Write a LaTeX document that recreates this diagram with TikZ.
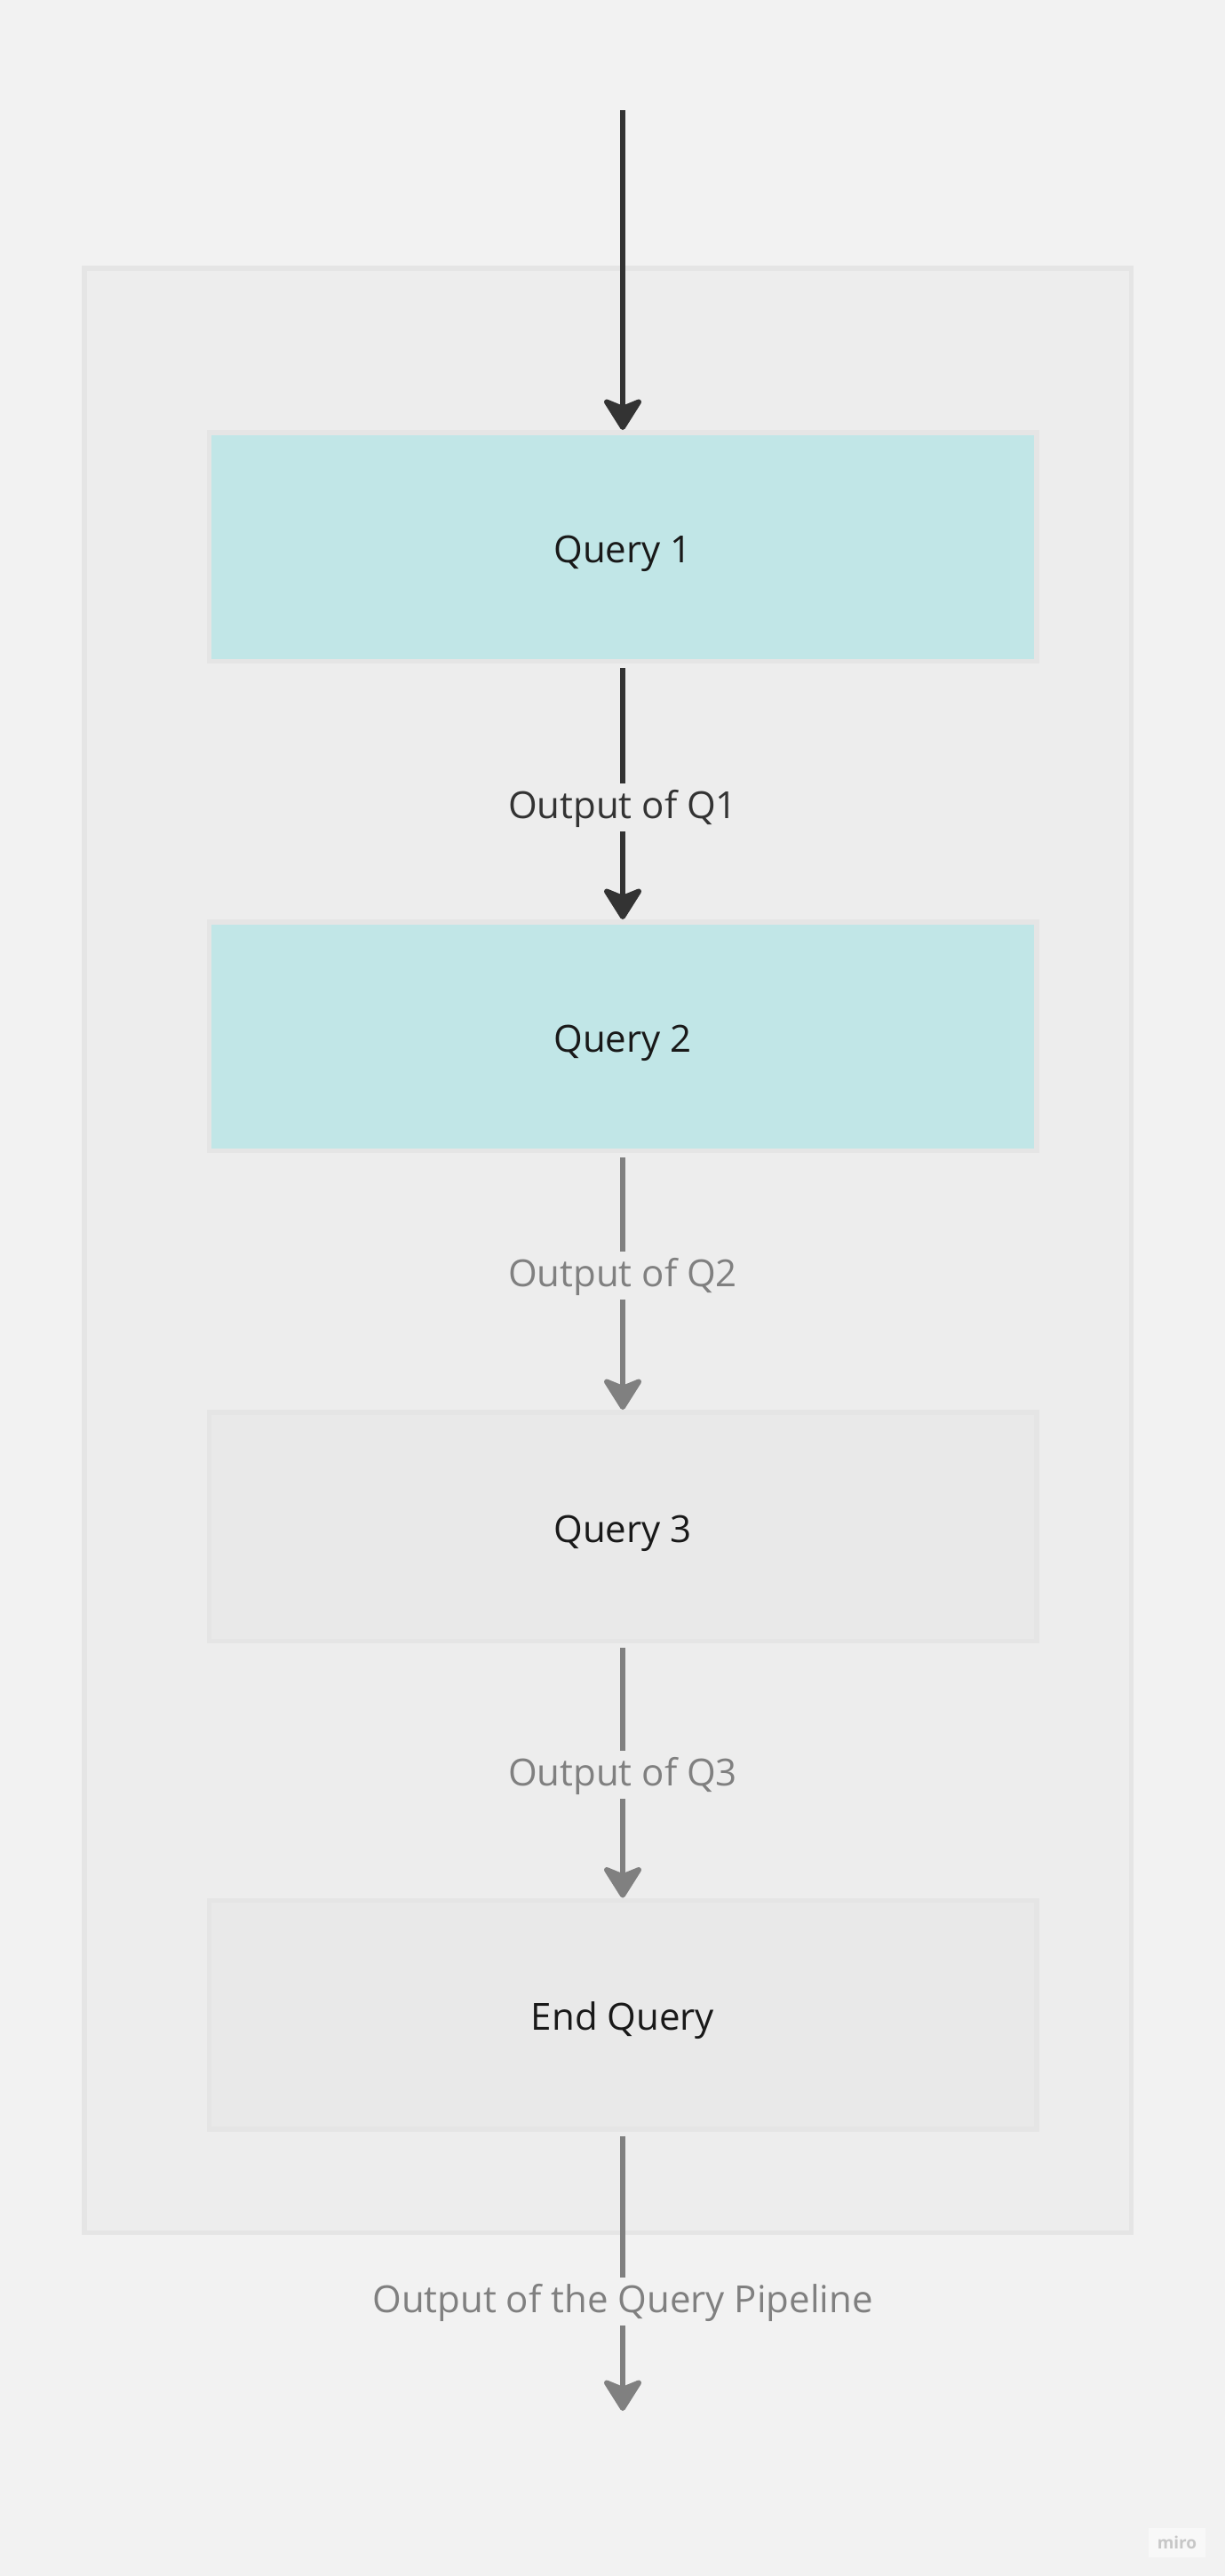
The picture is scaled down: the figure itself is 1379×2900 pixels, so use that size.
\documentclass[tikz,border=0pt]{standalone}
\usepackage{fontspec}
\setmainfont{Open Sans}
\usetikzlibrary{arrows.meta}
\definecolor{bgcol}{HTML}{F2F2F2}
\definecolor{framefill}{HTML}{EDEDED}
\definecolor{frameline}{HTML}{E5E5E5}
\definecolor{tealfill}{HTML}{C1E6E7}
\definecolor{greyfill}{HTML}{E9E9E9}
\definecolor{darkline}{HTML}{333333}
\definecolor{greyline}{HTML}{808080}
\begin{document}
\begin{tikzpicture}[x=1pt, y=-1pt,
        qbox/.style={draw=frameline, line width=5.5pt, minimum width=931.5pt, minimum height=257.5pt, inner sep=0pt, text height=35.5pt, text depth=0pt, text=black!90, font=\fontsize{42}{50}\selectfont},
        flow/.style={line width=6pt, -{Stealth[length=40pt, width=50pt, inset=10pt, round]}, shorten <=5pt},
        lbl/.style={fill=framefill, inner xsep=4pt, inner ysep=4.5pt, text height=35pt, text depth=10pt, font=\fontsize{42}{50}\selectfont}]
        \fill[bgcol] (0,0) rectangle (1379,2900);
        \draw[frameline, fill=framefill, line width=5.5pt] (94.75,301.75) rectangle (1273.25,2513.25);

        \coordinate (in) at (701,124);
        \node[qbox, fill=tealfill] (q1) at (701,615.5) {Query 1};
        \node[qbox, fill=tealfill] (q2) at (701,1166.5) {Query 2};
        \node[qbox, fill=greyfill] (q3) at (701,1718.5) {Query 3};
        \node[qbox, fill=greyfill] (qend) at (701,2268) {End Query};
        \coordinate (out) at (701,2714);

        \draw[flow, darkline, shorten <=0pt] (in) -- (q1);
        \draw[flow, darkline] (q1) -- node[lbl, pos=0.563, text=darkline] {Output of Q1} (q2);
        \draw[flow, greyline] (q2) -- node[lbl, pos=0.478, text=greyline] {Output of Q2} (q3);
        \draw[flow, greyline] (q3) -- node[lbl, pos=0.516, text=greyline] {Output of Q3} (qend);
        \draw[flow, greyline] (qend) -- node[lbl, fill=bgcol, pos=0.608, text=greyline] {Output of the Query Pipeline} (out);

        \node[fill=white!50!bgcol, text=black!22, inner sep=0pt, minimum width=64pt, minimum height=33pt, font=\fontsize{19}{20}\selectfont\bfseries] (logo) at (1325,2862) {miro};
    \end{tikzpicture}
\end{document}
